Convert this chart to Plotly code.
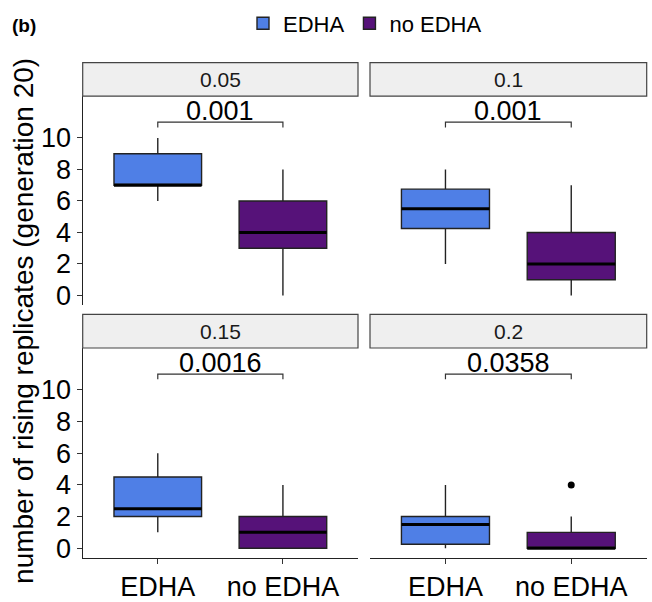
import plotly.graph_objects as go

# ---------------- data ----------------
panels = ["0.05", "0.1", "0.15", "0.2"]
groups = ["EDHA", "no EDHA"]
group_pos = [1, 2]
colors = {"EDHA": "#4F7FE6", "no EDHA": "#561279"}

# per panel, per group: [lower whisker, q1, median, q3, upper whisker]
stats = {
    "0.05": {"EDHA": [6, 7, 7, 9, 10], "no EDHA": [0, 3, 4, 6, 8]},
    "0.1": {"EDHA": [2, 4.25, 5.5, 6.75, 8], "no EDHA": [0, 1, 2, 4, 7]},
    "0.15": {"EDHA": [1, 2, 2.5, 4.5, 6], "no EDHA": [0, 0, 1, 2, 4]},
    "0.2": {"EDHA": [0, 0.25, 1.5, 2, 4], "no EDHA": [0, 0, 0, 1, 2]},
}
outliers = {"0.2": {"no EDHA": [4]}}
p_values = ["0.001", "0.001", "0.0016", "0.0358"]
bracket_y = [11.0, 11.0, 11.0, 11.0]
y_ticks = [0, 2, 4, 6, 8, 10]

W, H = 652, 602
def px(x):
    return x / W
def py(y):
    return 1 - y / H

FONT = "Liberation Sans"
# panel geometry (pixels)
xdoms = [(82.7, 358), (370, 646.7)]
ydoms = [(98.3, 311.7), (355.7, 570)]
strip_h = 34.3
box_w = 0.7

fig = go.Figure()
layout = {}
for i, pnl in enumerate(panels):
    r, c = divmod(i, 2)
    ax = "" if i == 0 else str(i + 1)
    xa, ya = "x" + ax, "y" + ax
    x0, x1 = xdoms[c]
    y0, y1 = ydoms[r]
    layout["xaxis" + ax] = dict(
        domain=[px(x0), px(x1)], anchor=ya, range=[0.4, 2.6],
        tickvals=group_pos, ticktext=groups,
        showticklabels=(r == 1), ticks="outside" if r == 1 else "",
        ticklen=5, tickwidth=1.2, tickcolor="#333333",
        showline=(r == 1), linecolor="#222222", linewidth=1.3,
        showgrid=False, zeroline=False,
        tickfont=dict(size=27, color="#000000", family=FONT),
    )
    layout["yaxis" + ax] = dict(
        domain=[py(y1), py(y0)], anchor=xa, range=[-0.6, 12.65],
        tickvals=y_ticks, showticklabels=(c == 0),
        ticks="outside" if c == 0 else "", ticklen=5, tickwidth=1.2,
        tickcolor="#333333",
        showline=(c == 0), linecolor="#222222", linewidth=1.3,
        showgrid=False, zeroline=False,
        tickfont=dict(size=27, color="#000000", family=FONT),
    )
    for g, pos in zip(groups, group_pos):
        lo, q1, med, q3, hi = stats[pnl][g]
        fig.add_trace(go.Box(
            x=[pos], q1=[q1], median=[med], q3=[q3],
            lowerfence=[lo], upperfence=[hi],
            width=box_w, whiskerwidth=0,
            fillcolor=colors[g], line=dict(color="#222222", width=1.4),
            name=g, legendgroup=g, showlegend=(i == 0),
            boxpoints=False, xaxis=xa, yaxis=ya,
        ))
        # thick median line
        fig.add_trace(go.Scatter(
            x=[pos - box_w / 2, pos + box_w / 2], y=[med, med],
            mode="lines", line=dict(color="#000000", width=3),
            showlegend=False, hoverinfo="skip", xaxis=xa, yaxis=ya,
        ))
        if pnl in outliers and g in outliers[pnl]:
            vals = outliers[pnl][g]
            fig.add_trace(go.Scatter(
                x=[pos] * len(vals), y=vals, mode="markers",
                marker=dict(color="#000000", size=7),
                showlegend=False, xaxis=xa, yaxis=ya,
            ))
    # significance bracket
    by = bracket_y[i]
    fig.add_shape(type="path",
                  path=f"M {group_pos[0]},{by - 0.33} L {group_pos[0]},{by} L {group_pos[1]},{by} L {group_pos[1]},{by - 0.33}",
                  xref=xa, yref=ya, line=dict(color="#333333", width=1.2))
    fig.add_annotation(x=sum(group_pos) / 2, y=by, xref=xa, yref=ya,
                       text=p_values[i], showarrow=False, yanchor="bottom",
                       yshift=-6,
                       font=dict(size=27, color="#000000", family=FONT))
    # strip
    fig.add_shape(type="rect", xref="paper", yref="paper",
                  x0=px(x0), x1=px(x1), y0=py(y0), y1=py(y0 - strip_h),
                  fillcolor="#EFEFEF", line=dict(color="#444444", width=1.2))
    fig.add_annotation(x=px((x0 + x1) / 2), y=py(y0 - strip_h / 2),
                       xref="paper", yref="paper", text=pnl, showarrow=False,
                       xanchor="center", yanchor="middle",
                       font=dict(size=21, color="#1A1A1A", family=FONT))

# y title
fig.add_annotation(x=px(24), y=py(328), xref="paper", yref="paper",
                   text="number of rising replicates (generation 20)",
                   textangle=-90, showarrow=False,
                   xanchor="center", yanchor="middle",
                   font=dict(size=28, color="#000000", family=FONT))
# panel tag
fig.add_annotation(x=px(10), y=py(26), xref="paper", yref="paper",
                   text="<b>(b)</b>", showarrow=False, xanchor="left",
                   yanchor="middle",
                   font=dict(size=19, color="#000000", family=FONT))

fig.update_layout(
    width=W, height=H, margin=dict(l=0, r=0, t=0, b=0),
    plot_bgcolor="white", paper_bgcolor="white",
    legend=dict(orientation="h", x=px(243), y=py(24), xanchor="left",
                yanchor="middle", font=dict(size=22, color="#000000",
                family=FONT), itemwidth=30,
                bgcolor="rgba(0,0,0,0)"),
    **layout,
)
fig.write_html("out.html")
